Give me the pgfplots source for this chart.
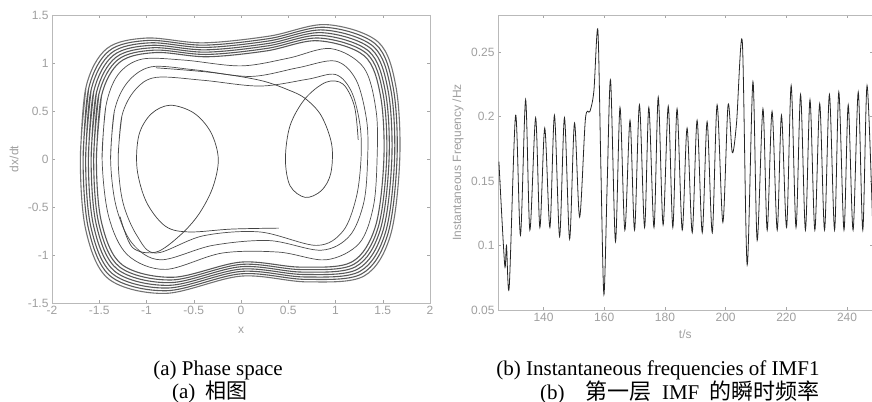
\documentclass[border=0pt]{standalone}
\usepackage{pgfplots}
\pgfplotsset{compat=1.18}
\usepackage{fontspec}
\setmainfont{Liberation Serif}
\newfontfamily\axfont{Liberation Sans}
\newfontfamily\cjk{Noto Sans CJK SC}
\begin{document}
\begin{tikzpicture}
\useasboundingbox (0bp,0bp) rectangle (872bp,402bp);
\pgfplotsset{mystyle/.style={scale only axis,
  axis line style={gray!55, line width=0.9bp},
  tick style={gray!70, line width=0.5bp}, tick align=inside, major tick length=3bp,
  ticklabel style={font=\axfont\fontsize{12bp}{14bp}\selectfont, text=gray!75},
  label style={font=\axfont\fontsize{12bp}{14bp}\selectfont, text=gray!75},
  /pgf/number format/assume math mode=true}}
\begin{axis}[mystyle, at={(52bp,99bp)}, anchor=south west, width=378bp, height=288bp,
  xmin=-2, xmax=2, ymin=-1.5, ymax=1.5,
  xtick={-2,-1.5,-1,-0.5,0,0.5,1,1.5,2}, ytick={-1.5,-1,-0.5,0,0.5,1,1.5},
  xlabel={x}, ylabel={dx/dt},
  xlabel style={at={(axis description cs:0.5,-0.094)}, anchor=center},
  ylabel style={at={(axis description cs:-0.1,0.5)}, anchor=center}]
\pgfplotsset{every axis plot/.append style={smooth, tension=0.55, line width=0.7bp}}
% outer dense band
\addplot[black!55, line width=1.1bp] coordinates {(-1.70,0) (-1.64,0.75) (-1.42,1.15) (-1.00,1.26) (-0.40,1.21) (0.30,1.28) (0.90,1.40) (1.45,1.22) (1.64,0.75) (1.68,0) (1.58,-0.80) (1.30,-1.22) (0.70,-1.28) (0,-1.22) (-0.80,-1.40) (-1.40,-1.25) (-1.64,-0.75) (-1.70,0) (-1.64,0.75)};
\addplot[black!65, line width=1.1bp] coordinates {(-1.671,0) (-1.612,0.735) (-1.396,1.127) (-0.983,1.235) (-0.393,1.186) (0.295,1.254) (0.885,1.372) (1.425,1.196) (1.612,0.735) (1.651,0) (1.553,-0.784) (1.278,-1.196) (0.688,-1.254) (0,-1.196) (-0.786,-1.372) (-1.376,-1.225) (-1.612,-0.735) (-1.671,0) (-1.612,0.735)};
\addplot[black!65, line width=1.1bp] coordinates {(-1.644,0) (-1.586,0.72) (-1.373,1.104) (-0.967,1.21) (-0.387,1.162) (0.290,1.229) (0.870,1.344) (1.402,1.171) (1.586,0.72) (1.625,0) (1.528,-0.768) (1.257,-1.171) (0.677,-1.229) (0,-1.171) (-0.774,-1.344) (-1.354,-1.2) (-1.586,-0.72) (-1.644,0) (-1.586,0.72)};
\addplot[black!65, line width=1.1bp] coordinates {(-1.615,0) (-1.558,0.705) (-1.349,1.081) (-0.95,1.184) (-0.38,1.137) (0.285,1.203) (0.855,1.316) (1.378,1.147) (1.558,0.705) (1.596,0) (1.501,-0.752) (1.235,-1.147) (0.665,-1.203) (0,-1.147) (-0.76,-1.316) (-1.33,-1.175) (-1.558,-0.705) (-1.615,0) (-1.558,0.705)};
\addplot[black!65, line width=1.1bp] coordinates {(-1.586,0) (-1.530,0.69) (-1.325,1.058) (-0.933,1.159) (-0.373,1.113) (0.280,1.178) (0.840,1.288) (1.353,1.122) (1.530,0.69) (1.567,0) (1.474,-0.736) (1.213,-1.122) (0.653,-1.178) (0,-1.122) (-0.746,-1.288) (-1.306,-1.15) (-1.530,-0.69) (-1.586,0) (-1.530,0.69)};
\addplot[black!65, line width=1.1bp] coordinates {(-1.559,0) (-1.504,0.675) (-1.302,1.035) (-0.917,1.134) (-0.367,1.089) (0.275,1.152) (0.825,1.26) (1.330,1.098) (1.504,0.675) (1.541,0) (1.449,-0.72) (1.192,-1.098) (0.642,-1.152) (0,-1.098) (-0.734,-1.26) (-1.284,-1.125) (-1.504,-0.675) (-1.559,0) (-1.504,0.675)};
\addplot[black!65, line width=1.1bp] coordinates {(-1.53,0) (-1.476,0.66) (-1.278,1.012) (-0.90,1.109) (-0.36,1.065) (0.27,1.126) (0.81,1.232) (1.305,1.074) (1.476,0.66) (1.512,0) (1.422,-0.704) (1.17,-1.074) (0.63,-1.126) (0,-1.074) (-0.72,-1.232) (-1.26,-1.1) (-1.476,-0.66) (-1.53,0) (-1.476,0.66)};
% intermediate loops
\addplot[black!70] coordinates {(-1.47,0) (-1.43,0.55) (-1.3,0.88) (-1.05,1.04) (-0.6,1.03) (0,0.97) (0.5,1.05) (0.95,1.15) (1.3,0.95) (1.43,0.5) (1.44,0) (1.4,-0.5) (1.25,-0.88) (0.9,-1.05) (0.4,-0.97) (-0.2,-0.98) (-0.8,-1.15) (-1.2,-1.0) (-1.4,-0.6) (-1.47,0) (-1.43,0.55)};
\addplot[black!70] coordinates {(-1.38,0) (-1.34,0.5) (-1.2,0.8) (-0.95,0.96) (-0.5,0.93) (0.1,0.86) (0.6,0.95) (1.0,1.02) (1.22,0.82) (1.33,0.4) (1.34,0) (1.3,-0.45) (1.15,-0.8) (0.85,-0.95) (0.3,-0.85) (-0.3,-0.9) (-0.85,-1.05) (-1.15,-0.88) (-1.32,-0.5) (-1.38,0) (-1.34,0.5)};
\addplot[black!70] coordinates {(-1.30,0) (-1.26,0.45) (-1.12,0.72) (-0.9,0.85) (-0.4,0.82) (0.2,0.76) (0.7,0.83) (1.0,0.88) (1.17,0.7) (1.26,0.35) (1.27,0) (1.22,-0.4) (1.08,-0.75) (0.8,-0.9) (0.2,-0.76) (-0.4,-0.8) (-0.9,-0.98) (-1.1,-0.8) (-1.25,-0.45) (-1.30,0) (-1.26,0.45)};
% inner left loop
\addplot[black!75] coordinates {(0.4,-0.72) (-0.1,-0.73) (-0.55,-0.76) (-0.8,-0.7) (-1.0,-0.45) (-1.1,-0.1) (-1.08,0.25) (-0.95,0.47) (-0.75,0.56) (-0.5,0.48) (-0.32,0.28) (-0.24,0.0) (-0.3,-0.3) (-0.45,-0.58) (-0.65,-0.8) (-0.9,-0.97) (-1.15,-0.92) (-1.28,-0.6)};
% inner right loop
\addplot[black!75] coordinates {(-0.9,0.95) (-0.3,0.9) (0.2,0.82) (0.5,0.72) (0.68,0.63) (0.85,0.45) (0.96,0.15) (0.95,-0.15) (0.85,-0.33) (0.68,-0.40) (0.52,-0.28) (0.47,0.0) (0.52,0.35) (0.68,0.63) (0.9,0.8) (1.08,0.78) (1.2,0.55) (1.24,0.2)};
\end{axis}
\begin{axis}[mystyle, at={(498bp,92bp)}, anchor=south west, width=374.5bp, height=295bp,
  xmin=125, xmax=248.4, ymin=0.05, ymax=0.2787,
  xtick={140,160,180,200,220,240}, ytick={0.05,0.1,0.15,0.2,0.25},
  yticklabels={0.05,0.1,0.15,0.2,0.25},
  xlabel={t/s}, ylabel={Instantaneous Frequency /Hz},
  xlabel style={at={(axis description cs:0.5,-0.081)}, anchor=center},
  ylabel style={at={(axis description cs:-0.107,0.5)}, anchor=center}]
\addplot[black!85, line width=0.8bp, smooth, tension=0.5] coordinates {
(125.3,0.165) (127.2,0.085) (127.8,0.100) (128.7,0.068) (130.8,0.201) (132.4,0.108)
(134.1,0.213) (135.5,0.112) (137.4,0.199) (138.8,0.114) (140.4,0.191) (142.1,0.114)
(143.6,0.201) (145.3,0.107) (146.9,0.199) (148.6,0.105) (150.2,0.195) (151.9,0.122)
(153.8,0.198) (155.3,0.204) (156.6,0.220) (157.9,0.267) (158.9,0.160) (159.9,0.062)
(161.0,0.150) (162.1,0.228) (163.7,0.103) (165.2,0.207) (166.8,0.112) (168.5,0.197)
(170.0,0.112) (171.6,0.209) (173.3,0.114) (174.7,0.207) (176.4,0.114) (177.8,0.215)
(179.4,0.116) (181.1,0.208) (182.6,0.114) (184.0,0.206) (185.7,0.112) (187.3,0.191)
(189.0,0.110) (190.6,0.197) (192.3,0.110) (193.9,0.196) (195.6,0.110) (197.2,0.209)
(199.1,0.118) (200.8,0.209) (202.2,0.172) (203.6,0.195) (205.5,0.258) (207.1,0.085)
(209.0,0.227) (210.4,0.104) (212.3,0.206) (213.7,0.112) (215.3,0.204) (217.0,0.112)
(218.4,0.201) (220.1,0.114) (221.6,0.224) (223.2,0.114) (224.7,0.217) (226.3,0.112)
(227.8,0.213) (229.4,0.112) (231.0,0.210) (232.6,0.112) (234.2,0.217) (235.9,0.112)
(237.3,0.219) (239.0,0.112) (240.4,0.209) (242.0,0.112) (243.7,0.219) (245.2,0.112)
(246.6,0.224) (248.4,0.120)};
\end{axis}
\node[font=\fontsize{21bp}{24bp}\selectfont] at (218bp,32bp) {(a) Phase space};
\node[font=\fontsize{21bp}{24bp}\selectfont] at (210bp,10bp) {(a)\enspace{\cjk 相图}};
\node[font=\fontsize{21bp}{24bp}\selectfont] at (658bp,32bp) {(b) Instantaneous frequencies of IMF1};
\node[font=\fontsize{21bp}{24bp}\selectfont] at (680bp,10bp) {(b)\quad{\cjk\fontsize{22bp}{24bp}\selectfont 第一层}\enspace IMF\enspace{\cjk\fontsize{22bp}{24bp}\selectfont 的瞬时频率}};
\end{tikzpicture}
\end{document}
